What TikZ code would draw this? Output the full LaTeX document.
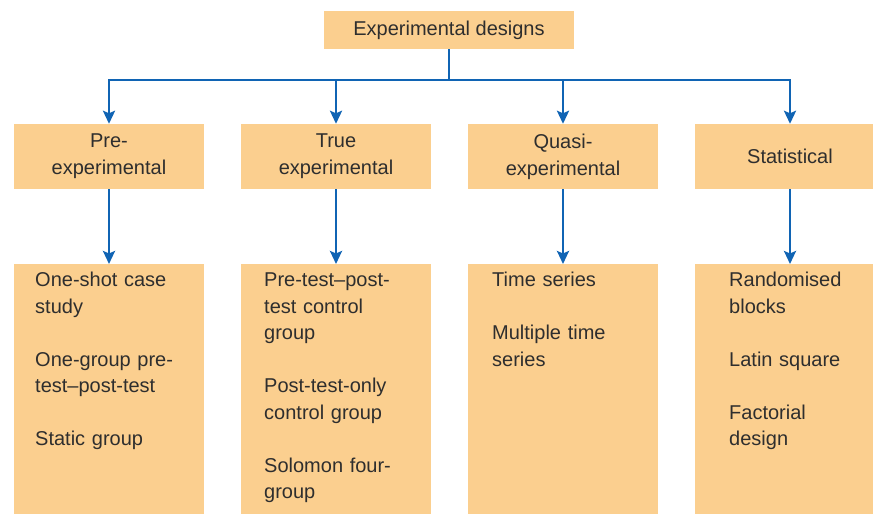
\documentclass[tikz,border=0pt]{standalone}
\usepackage{fontspec}
\setmainfont{Liberation Sans}
\usetikzlibrary{arrows.meta}
\definecolor{boxfill}{HTML}{FBCF8F}
\definecolor{lineblue}{HTML}{1064B4}
\definecolor{txt}{HTML}{2E2E2E}
\tikzset{
  topbox/.style={rectangle, fill=boxfill, minimum width=250pt, minimum height=38pt, inner sep=0pt, text=txt},
  midbox/.style={rectangle, fill=boxfill, minimum width=190pt, minimum height=65pt, inner sep=0pt, text=txt, align=center, font=\fontsize{20}{27}\selectfont},
  lowbox/.style={rectangle, fill=boxfill, minimum width=190pt, minimum height=260pt, inner sep=0pt, anchor=north},
  lowtext/.style={anchor=base west, inner sep=0pt, text width=172pt, align=left, text=txt, font=\fontsize{20}{26.5}\selectfont},
  conn/.style={draw=lineblue, line width=2.8pt},
  arr/.style={conn, -{Stealth[length=13pt, width=12pt, inset=2.5pt]}}
}
\begin{document}
\begin{tikzpicture}[x=1pt, y=-1pt]
\useasboundingbox (0,0) rectangle (873,514);
\clip (0,0) rectangle (873,514);
\node[topbox, font=\fontsize{20}{27}\selectfont] (top) at (449,30) {Experimental designs};
\node[midbox] (pre) at (109,156.5) {Pre-\\experimental};
\node[midbox] (true) at (336,156.5) {True\\experimental};
\node[midbox] (quasi) at (563,156.5) {Quasi-\\experimental};
\node[midbox] (stat) at (790,156.5) {Statistical};
\node[lowbox] (preL) at (109,264) {};
\node[lowbox] (trueL) at (336,264) {};
\node[lowbox] (quasiL) at (563,264) {};
\node[lowbox] (statL) at (790,264) {};
\node[lowtext] (preT) at (35,286.5) {One-shot case\\study\\[26.5pt]One-group pre-\\test--post-test\\[26.5pt]Static group};
\node[lowtext] (trueT) at (264,286.5) {Pre-test--post-\\test control\\group\\[26.5pt]Post-test-only\\control group\\[26.5pt]Solomon four-\\group};
\node[lowtext] (quasiT) at (492,286.5) {Time series\\[26.5pt]Multiple time\\series};
\node[lowtext] (statT) at (729,286.5) {Randomised\\blocks\\[26.5pt]Latin square\\[26.5pt]Factorial\\design};
\coordinate (hub) at (top.south |- 0,80);
\coordinate (hl) at (pre.north |- 0,80);
\coordinate (hr) at (stat.north |- 0,80);
\draw[conn] (top.south) -- (hub);
\draw[conn, line cap=rect] (hl) -- (hr);
\draw[arr] (hl) -- (pre.north);
\draw[arr] (true.north |- hub) -- (true.north);
\draw[arr] (quasi.north |- hub) -- (quasi.north);
\draw[arr] (hr) -- (stat.north);
\draw[arr] (pre.south) -- (preL.north);
\draw[arr] (true.south) -- (trueL.north);
\draw[arr] (quasi.south) -- (quasiL.north);
\draw[arr] (stat.south) -- (statL.north);
\end{tikzpicture}
\end{document}
